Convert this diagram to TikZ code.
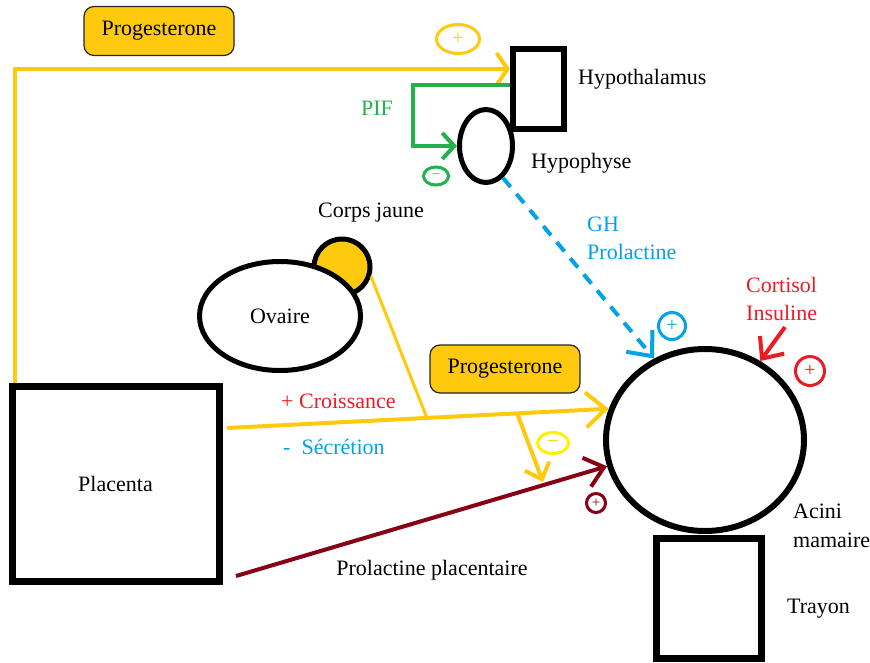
\documentclass[tikz,border=0pt]{standalone}
\usepackage{fontspec}
\setmainfont{Liberation Serif}
\usetikzlibrary{shapes.geometric,arrows.meta,calc}
\definecolor{gold}{HTML}{FFC90E}
\definecolor{pgreen}{HTML}{22B14C}
\definecolor{pblue}{HTML}{00A2E8}
\definecolor{pred}{HTML}{ED1C24}
\definecolor{pmaroon}{HTML}{880015}
\definecolor{pyellow}{HTML}{FFF200}
\begin{document}
\begin{tikzpicture}[x=1pt,y=-1pt,
  every node/.style={font=\fontsize{22}{26}\selectfont, inner sep=0pt},
  organ/.style={draw=black},
  lbl/.style={anchor=west},
  progbox/.style={draw=black!85, line width=1.2pt, fill=gold, rounded corners=10pt, minimum width=150pt, minimum height=49pt},
  sign/.style={ellipse, draw, line width=3pt, font=\fontsize{20}{20}\selectfont},
  conn/.style={line width=4pt},
  tipA/.style={-{Straight Barb[length=#1]}},
]
\useasboundingbox (0,0) rectangle (870,662);

% organs
\node[organ, line width=6pt, minimum width=51pt, minimum height=80pt] (hyp) at (538.5,89) {};
\node[organ, ellipse, line width=5pt, minimum width=53pt, minimum height=73pt] (hph) at (486,146) {};
\node[organ, circle, line width=5pt, fill=gold, minimum size=56pt] (cj) at (342,267) {};
\node[organ, ellipse, line width=5pt, fill=white, minimum width=161pt, minimum height=109pt] (ov) at (280,316) {Ovaire};
\node[organ, line width=7pt, minimum width=207pt, minimum height=195pt] (pl) at (115.5,483.5) {Placenta};
\node[organ, ellipse, line width=6pt, minimum width=198pt, minimum height=182pt] (ac) at (705,440) {};
\node[organ, line width=7pt, minimum width=105pt, minimum height=120pt] (tr) at (709,598.5) {};

% labels
\node[progbox] (prog1) at (159,31) {Progesterone};
\node[progbox, minimum height=48pt] (prog2) at (505,369) {Progesterone};
\node[lbl] (hyptxt) at (578,79) {Hypothalamus};
\node[lbl] (hphtxt) at (531,163) {Hypophyse};
\node[text=pgreen] (pif) at (377,108) {PIF};
\node (cjtxt) at (371,213) {Corps jaune};
\node[lbl, text=pblue] (gh) at (587,224) {GH};
\node[lbl, text=pblue] (prl) at (587,252) {Prolactine};
\node[lbl, text=pred] (cort) at (746,285) {Cortisol};
\node[lbl, text=pred] (ins) at (746,313) {Insuline};
\node[lbl, text=pred] (cro) at (281,401) {+ Croissance};
\node[lbl, text=pblue] (sec) at (283,447) {-\ \ Sécrétion};
\node (prpl) at (432,570) {Prolactine placentaire};
\node[lbl] (acitxt) at (793,511) {Acini};
\node[lbl] (mamtxt) at (793,540) {mamaire};
\node[lbl] (trtxt) at (787,609) {Trayon};

% signs
\node[sign, draw=gold, text=gold, minimum width=43pt, minimum height=29pt] (s1) at (458,39) {+};
\node[sign, draw=pgreen, text=pgreen, minimum width=25pt, minimum height=18pt] (s2) at (436,176) {\fontsize{14}{14}\selectfont –};
\node[sign, circle, draw=pblue, text=pblue, minimum size=27pt] (s3) at (672,326) {+};
\node[sign, circle, draw=pred, text=pred, minimum size=29pt] (s4) at (810,371) {+};
\node[sign, circle, draw=pmaroon, text=pmaroon, minimum size=19pt, font=\fontsize{15}{15}\selectfont] (s5) at (596,503) {+};
\node[sign, draw=pyellow, text=gold, minimum width=31pt, minimum height=21pt] (s6) at (553,443) {–};

% coordinates for free ends
\coordinate (rA) at (785,327);
\coordinate (mA) at (236,576);
\coordinate (jn) at (427,418);
\coordinate (dA) at (517,413);
\coordinate (dB) at (543,482);

% connectors
\draw[conn, gold, -{Straight Barb[length=11pt,width=32pt]}]
  ($(pl.north west)+(6.5,0)$) |- ($(hyp.west)+(0,-20)$);
\draw[conn, pgreen, -{Straight Barb[length=12pt,width=26pt]}]
  ($(hyp.west)+(0,-4)$) -- ++(-97,0) |- (hph.west);
\draw[conn, pblue, dash pattern=on 12pt off 9pt, -{Straight Barb[length=20pt,width=34pt]}]
  (hph.-62) -- (ac.122);
\draw[conn, pred, -{Straight Barb[length=17pt,width=30pt]}] (rA) -- (ac.55);
\draw[conn, pmaroon, -{Straight Barb[length=18pt,width=30pt]}] (mA) -- (ac.195);
\draw[conn, gold, -{Straight Barb[length=20pt,width=35pt]}] ($(pl.east)+(4.5,-55.5)$) -- (ac.162);
\draw[line width=3pt, gold] (cj.-18) -- (jn);
\draw[conn, gold, -{Straight Barb[length=14pt,width=26pt]}] (dA) -- (dB);
\end{tikzpicture}
\end{document}
